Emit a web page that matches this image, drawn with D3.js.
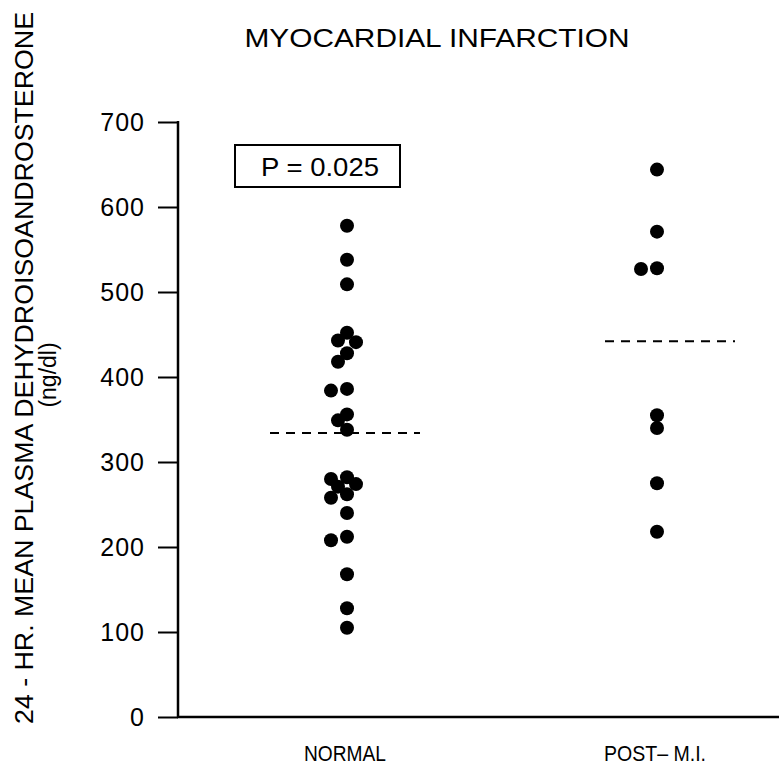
<!DOCTYPE html>
<html>
<head>
<meta charset="utf-8">
<script src="https://cdn.jsdelivr.net/npm/d3@7"></script>
<style>
  body { margin: 0; background: #fff; }
  text { font-family: "Liberation Sans", Arial, sans-serif; fill: #000; }
</style>
</head>
<body>
<div id="chart"></div>
<script>
// ======= data (ng/dl)
var groups = ["NORMAL", "POST-M.I."];
var normalValues = [578, 538, 509, 452, 443, 441, 428, 418, 386, 384, 356, 349, 338,
                    282, 280, 274, 271, 262, 258, 240, 212, 208, 168, 128, 105];
var postValues = [644, 571, 528, 527, 355, 340, 275, 218];
var groupMeans = [334, 442];
var yTicks = [0, 100, 200, 300, 400, 500, 600, 700];
var pLabel = "P = 0.025";

var width = 779, height = 774;
var r = 7;

var svg = d3.select("#chart")
  .append("svg")
  .attr("width", width)
  .attr("height", height);

// ======= scales
var y = d3.scaleLinear().domain([0, 700]).range([717, 122]);
var x = d3.scalePoint().domain(groups).range([347, 657]);

// ======= y axis
var yAxis = d3.axisLeft(y)
  .tickValues(yTicks)
  .tickSize(20)
  .tickPadding(13)
  .tickFormat(d3.format("d"));

var gy = svg.append("g")
  .attr("transform", "translate(178,0)")
  .call(yAxis);
gy.select(".domain").remove();
gy.selectAll(".tick line").attr("stroke", "#000").attr("stroke-width", 2);
gy.selectAll(".tick text")
  .attr("font-size", "25px")
  .attr("letter-spacing", "1px")
  .style("font-family", "'Liberation Sans', Arial, sans-serif");

svg.append("line")
  .attr("x1", 178).attr("x2", 178)
  .attr("y1", y(700) - 1).attr("y2", y(0))
  .attr("stroke", "#000").attr("stroke-width", 2.5);

// ======= x axis line + category labels
svg.append("line")
  .attr("x1", 177).attr("x2", width)
  .attr("y1", y(0)).attr("y2", y(0))
  .attr("stroke", "#000").attr("stroke-width", 2.5);

svg.selectAll(".xlab")
  .data(groups)
  .enter()
  .append("text")
  .attr("class", "xlab")
  .attr("x", function(d) { return x(d) - 2; })
  .attr("y", 761)
  .attr("text-anchor", "middle")
  .attr("font-size", "22px")
  .attr("textLength", function(d, j) { return j == 0 ? 82 : 102; })
  .attr("lengthAdjust", "spacingAndGlyphs")
  .text(function(d) { return d == "POST-M.I." ? "POST\u2013 M.I." : d; });

// ======= titles
svg.append("text")
  .attr("x", 437).attr("y", 47)
  .attr("text-anchor", "middle")
  .attr("font-size", "26px")
  .attr("textLength", 385)
  .attr("lengthAdjust", "spacingAndGlyphs")
  .text("MYOCARDIAL  INFARCTION");

svg.append("text")
  .attr("transform", "translate(33,368) rotate(-90)")
  .attr("text-anchor", "middle")
  .attr("font-size", "25px")
  .attr("textLength", 712)
  .attr("lengthAdjust", "spacingAndGlyphs")
  .text("24 - HR. MEAN  PLASMA  DEHYDROISOANDROSTERONE");

svg.append("text")
  .attr("transform", "translate(56,375) rotate(-90)")
  .attr("text-anchor", "middle")
  .attr("font-size", "23px")
  .text("(ng/dl)");

// ======= P value box
svg.append("rect")
  .attr("x", 235).attr("y", 145)
  .attr("width", 165).attr("height", 42)
  .attr("fill", "none")
  .attr("stroke", "#000").attr("stroke-width", 2);

svg.append("text")
  .attr("x", 320).attr("y", 176)
  .attr("text-anchor", "middle")
  .attr("font-size", "25px")
  .attr("textLength", 118)
  .attr("lengthAdjust", "spacingAndGlyphs")
  .text(pLabel);

// ======= mean lines (dashed)
svg.selectAll(".mean")
  .data(groupMeans)
  .enter()
  .append("line")
  .attr("class", "mean")
  .attr("x1", function(d, j) { return x(groups[j]) - (j == 0 ? 77 : 52); })
  .attr("x2", function(d, j) { return x(groups[j]) + (j == 0 ? 73 : 78); })
  .attr("y1", function(d) { return y(d); })
  .attr("y2", function(d) { return y(d); })
  .attr("stroke", "#000")
  .attr("stroke-width", 2)
  .attr("stroke-dasharray", "9,7");

// ======= dodge points so overlapping dots sit side by side
function dodge(values, cx) {
  var placed = [];
  var offs = [0, -9, 9, -16, 16];
  values.forEach(function(v) {
    var py = y(v);
    for (var k = 0; k < offs.length; k++) {
      var px = cx + offs[k];
      var hit = placed.some(function(p) {
        return Math.hypot(p.x - px, p.y - py) < r * 1.4;
      });
      if (!hit || k == offs.length - 1) {
        placed.push({ x: px, y: py, v: v });
        break;
      }
    }
  });
  return placed;
}

var pts = dodge(normalValues, x("NORMAL")).concat(dodge(postValues, x("POST-M.I.")));

svg.selectAll(".dot")
  .data(pts)
  .enter()
  .append("circle")
  .attr("class", "dot")
  .attr("cx", function(d) { return d.x; })
  .attr("cy", function(d) { return d.y; })
  .attr("r", r)
  .attr("fill", "#000");
</script>
</body>
</html>
